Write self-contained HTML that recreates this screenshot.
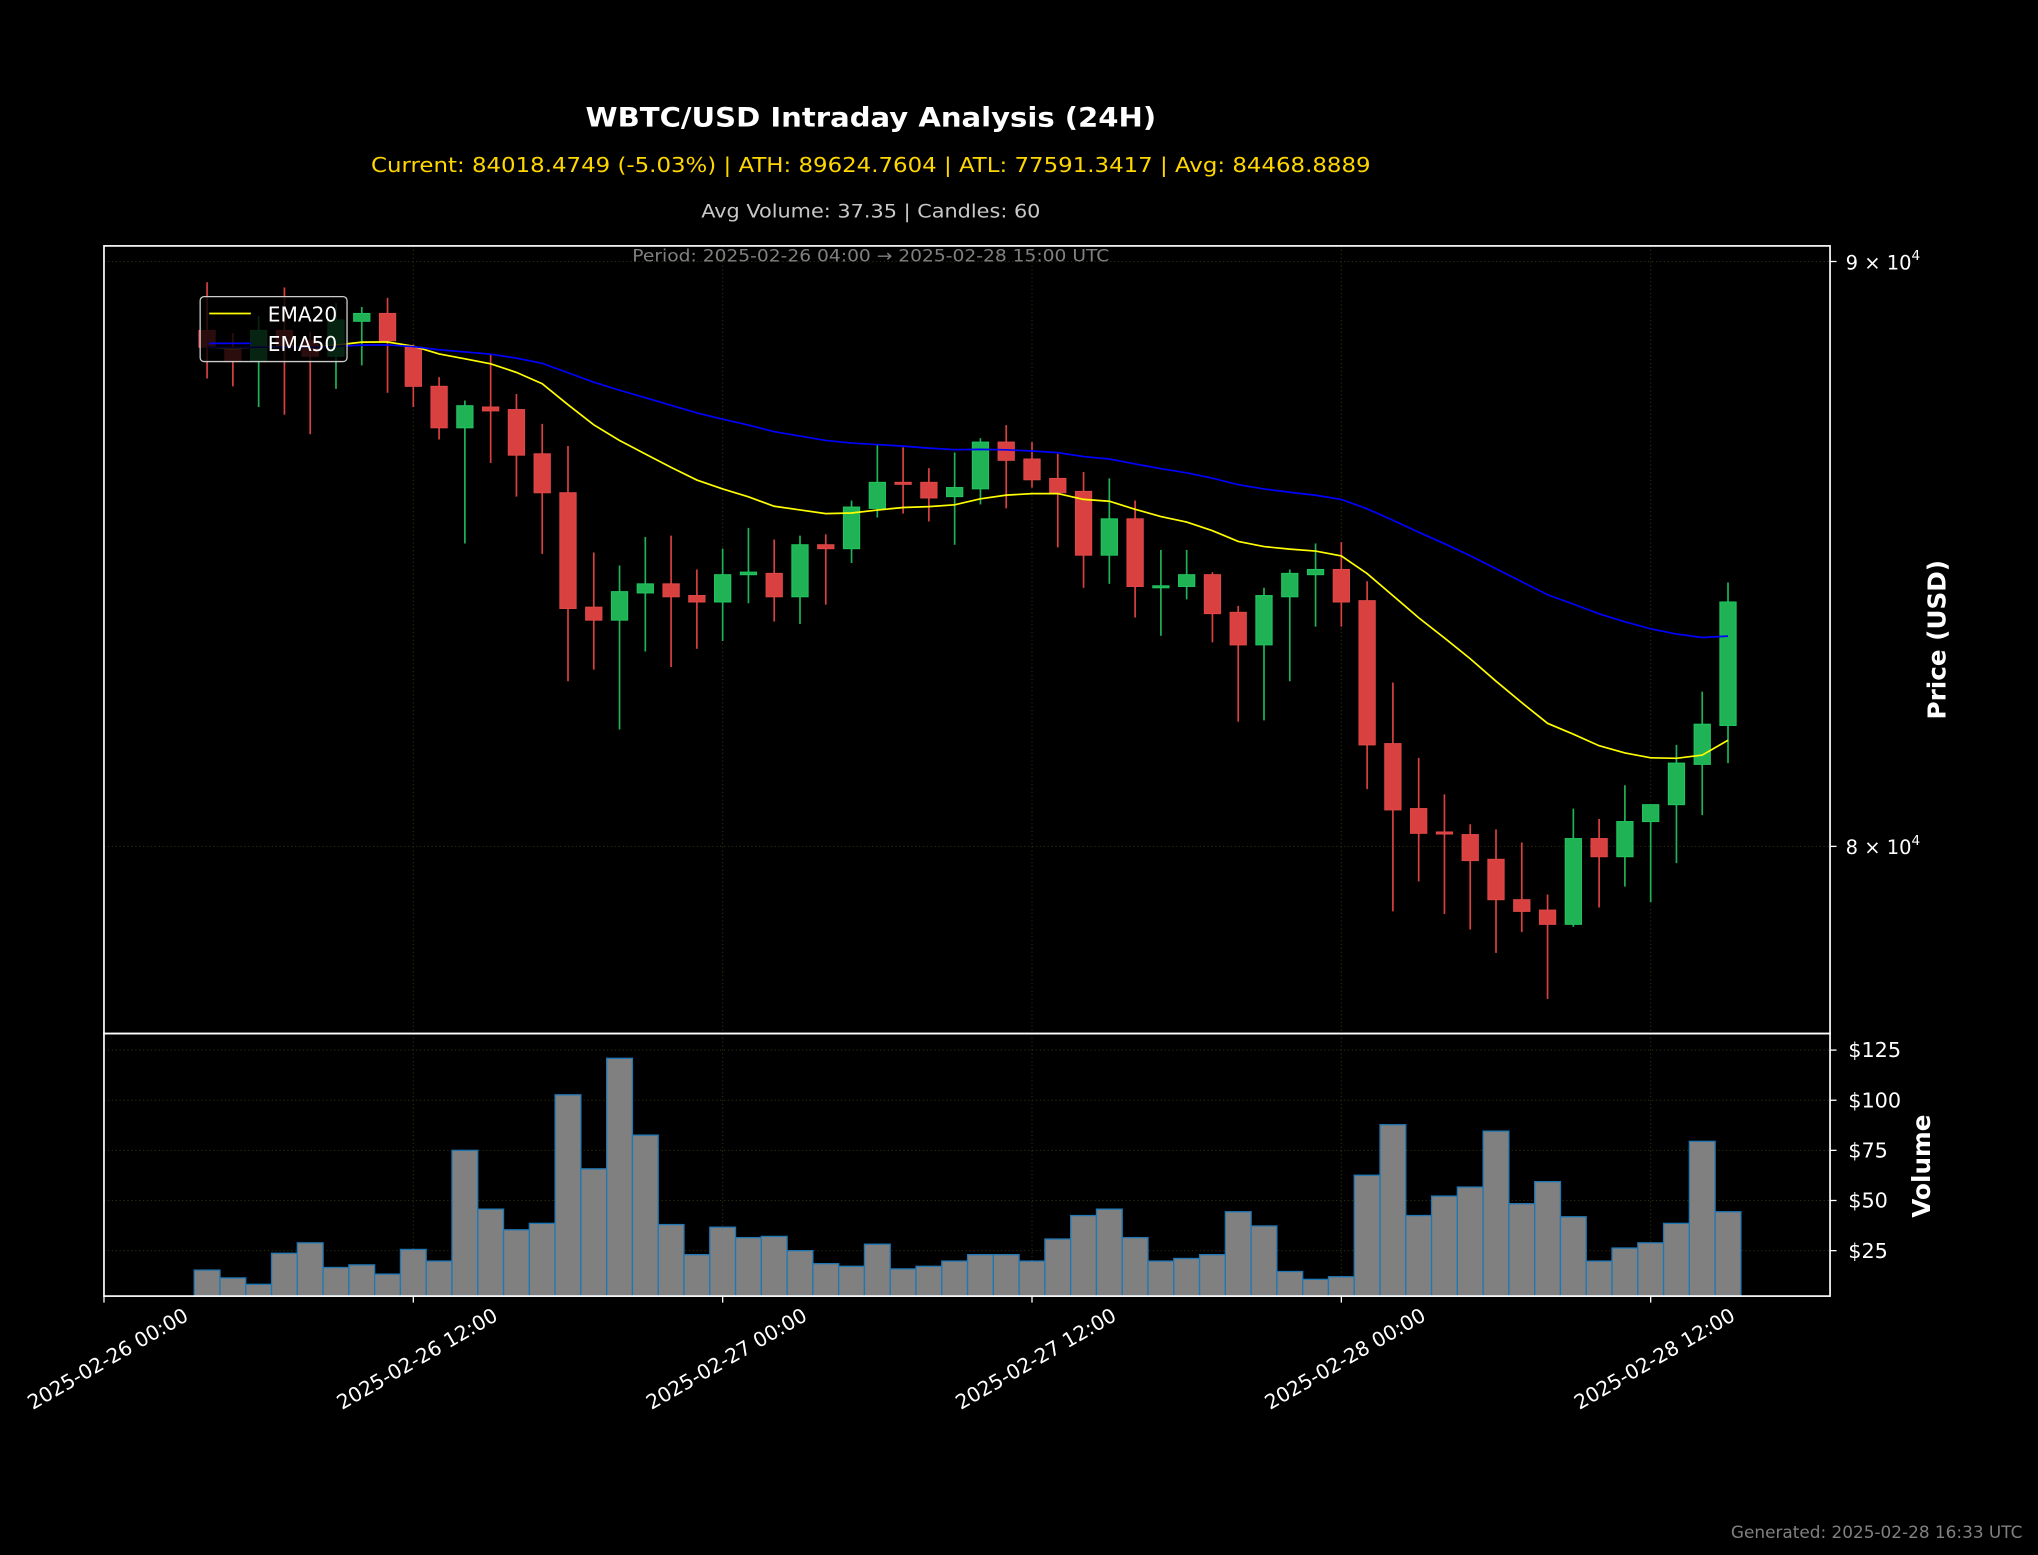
<!DOCTYPE html>
<html><head><meta charset="utf-8"><style>
html,body{margin:0;padding:0;background:#000;}
svg{display:block;font-family:"DejaVu Sans","Liberation Sans",sans-serif;}
</style></head><body>
<svg id="chart" xmlns="http://www.w3.org/2000/svg" width="2038" height="1555" viewBox="0 0 1568 1196">
<rect x="0" y="0" width="1568" height="1196" fill="#000"/>
<text x="670" y="97" text-anchor="middle" fill="#fff" font-weight="bold" font-size="20.5" textLength="439" lengthAdjust="spacingAndGlyphs">WBTC/USD Intraday Analysis (24H)</text>
<text x="670" y="132" text-anchor="middle" fill="#ffd700" font-size="16" textLength="769" lengthAdjust="spacingAndGlyphs">Current: 84018.4749 (-5.03%) | ATH: 89624.7604 | ATL: 77591.3417 | Avg: 84468.8889</text>
<text x="670" y="167" text-anchor="middle" fill="#c8c8c8" font-size="14" textLength="261" lengthAdjust="spacingAndGlyphs">Avg Volume: 37.35 | Candles: 60</text>
<g id="grid"></g>
<g id="vol"></g>
<g id="candles"></g>
<g id="ema"></g>
<text x="670" y="201" text-anchor="middle" fill="#808080" font-size="13" textLength="367" lengthAdjust="spacingAndGlyphs">Period: 2025-02-26 04:00 → 2025-02-28 15:00 UTC</text>
<rect x="80" y="189" width="1328" height="606" fill="none" stroke="#fff" stroke-width="1.3"/>
<rect x="80" y="795" width="1328" height="202" fill="none" stroke="#fff" stroke-width="1.3"/>
<g id="axes"></g>
<g>
<rect x="154" y="228" width="113" height="50" rx="3" fill="#000" fill-opacity="0.8" stroke="#ccc" stroke-width="1"/>
<line x1="161" y1="241" x2="193" y2="241" stroke="#ffff00" stroke-width="1.3"/>
<text x="206" y="247" fill="#fff" font-size="15.5">EMA20</text>
<line x1="161" y1="264" x2="193" y2="264" stroke="#0000ff" stroke-width="1.3"/>
<text x="206" y="270" fill="#fff" font-size="15.5">EMA50</text>
</g>
<text transform="translate(1497,492) rotate(-90)" text-anchor="middle" fill="#fff" font-weight="bold" font-size="19">Price (USD)</text>
<text transform="translate(1485,897) rotate(-90)" text-anchor="middle" fill="#fff" font-weight="bold" font-size="19">Volume</text>
<text x="1556" y="1183" text-anchor="end" fill="#808080" font-size="13">Generated: 2025-02-28 16:33 UTC</text>
</svg>
<script>
const opens=[88760,88459,88205,88760,88575,88298,88923,89063,88459,87766,87036,87401,87356,86581,85905,83948,83729,84189,84343,84145,84036,84499,84521,84124,85010,84943,85635,86085,86085,85838,85973,86786,86490,86153,85928,84832,85455,84288,84299,84499,83861,83313,84124,84499,84588,84058,81673,80611,80232,80190,79792,79146,78980,78754,80126,79834,80401,80675,81332,81972];
const highs=[89625,88714,89016,89531,88737,89250,89180,89344,88506,87928,87515,88321,87629,87105,86717,84877,84655,85143,85166,84588,84943,85299,85099,85166,85188,85770,86740,86695,86332,86603,86854,87082,86786,86581,86265,86153,85770,84921,84921,84543,83970,84277,84588,85032,85054,84388,82684,81438,80843,80358,80274,80063,79228,80611,80443,80991,80675,81652,82532,84366];
const lows=[87905,87766,87401,87265,86923,87720,88136,87652,87401,86831,85032,86422,85838,84855,82705,82900,81905,83203,82943,83247,83378,84014,83707,83663,83992,84699,85478,85545,85410,85010,85703,85635,85995,84965,84277,84343,83773,83466,84080,83356,82036,82057,82705,83619,83619,80928,78960,79438,78919,78672,78302,78631,77580,78713,79022,79355,79106,79731,80506,81353];
const closes=[88459,88205,88760,88459,88298,88946,89063,88575,87766,87036,87424,87333,86558,85905,83926,83729,84211,84343,84124,84036,84499,84543,84124,85010,84943,85658,86085,86063,85815,85995,86786,86468,86130,85905,84832,85455,84299,84310,84499,83839,83313,84145,84521,84588,84036,81652,80590,80211,80200,79772,79146,78960,78754,80126,79834,80401,80675,81353,81993,84036];
const volumes=[15.3,11.4,8.2,23.7,28.9,16.6,17.9,13.3,25.6,19.8,75,45.7,35.4,38.6,102.7,65.8,120.9,82.6,38,23,36.7,31.5,32.1,25,18.5,17.2,28.2,15.9,17.2,19.8,23,23,19.8,30.8,42.5,45.7,31.5,19.8,21.1,23,44.4,37.3,14.6,10.7,12,62.6,87.8,42.5,52.2,56.7,84.6,48.4,59.4,41.9,19.8,26.3,28.9,38.6,79.5,44.4];
const priceTicks=[80000,90000];
const priceTickLabels=["8","9"];
const volTicks=[25,50,75,100,125];
const volTickLabels=["$25","$50","$75","$100","$125"];
const xTickHours=[0,12,24,36,48,60];
const xTickLabels=["2025-02-26 00:00","2025-02-26 12:00","2025-02-27 00:00","2025-02-27 12:00","2025-02-28 00:00","2025-02-28 12:00"];
const firstHour=4;

const NS="http://www.w3.org/2000/svg";
const pxPerHour=(318-80)/12;
function xHour(h){return 80+h*pxPerHour;}
function xIdx(i){return xHour(firstHour+i);}
const pxPerDecade=450/Math.log10(90000/80000);
function yPrice(p){return 651-(Math.log10(p)-Math.log10(80000))*pxPerDecade;}
const volPx=(962-807.7)/100;
function yVol(v){return 1000.6-v*volPx;}
function mk(tag,attrs,parent){const e=document.createElementNS(NS,tag);for(const k in attrs)e.setAttribute(k,attrs[k]);parent.appendChild(e);return e;}

const grid=document.getElementById('grid');
const gridStyle={stroke:"#2e2c0c","stroke-width":"0.8","stroke-dasharray":"1,2"};
xTickHours.forEach((h)=>{
  const x=xHour(h);
  const a=mk('line',Object.assign({x1:x,y1:189,x2:x,y2:795},gridStyle),grid);
  
  
  const b=mk('line',Object.assign({x1:x,y1:795,x2:x,y2:997},gridStyle),grid);
  
  
});
priceTicks.forEach((p)=>{
  const y=yPrice(p);
  const g=mk('line',Object.assign({x1:80,y1:y,x2:1408,y2:y},gridStyle),grid);
  
  
});
volTicks.forEach((v)=>{
  const y=yVol(v);
  const g=mk('line',Object.assign({x1:80,y1:y,x2:1408,y2:y},gridStyle),grid);
  
  
});

const vol=document.getElementById('vol');
volumes.forEach((v,i)=>{
  const x=xIdx(i)-pxPerHour/2;
  const r=mk('rect',{x:x,y:yVol(v),width:pxPerHour,height:997-yVol(v),fill:"#808080",stroke:"#1f77b4","stroke-width":"1"},vol);
  
  
});

const cg=document.getElementById('candles');
const bw=12.5;
opens.forEach((o,i)=>{
  const c=closes[i];
  const up=c>=o;
  const col=up?"#1fb356":"#d94040";
  const x=xIdx(i);
  const w=mk('line',{x1:x,y1:yPrice(highs[i]),x2:x,y2:yPrice(lows[i]),stroke:col,"stroke-width":"1.3"},cg);
  
  
  const top=yPrice(Math.max(o,c)),bot=yPrice(Math.min(o,c));
  const b=mk('rect',{x:x-bw/2,y:top,width:bw,height:Math.max(bot-top,1.5),fill:col,stroke:up?"#22c45e":"#e04848","stroke-width":"0.8"},cg);
  
  
});

function ema(arr,span){const a=2/(span+1);const out=[];let prev=arr[0];arr.forEach((v,i)=>{prev=i===0?v:a*v+(1-a)*prev;out.push(prev);});return out;}
const eg=document.getElementById('ema');
[[20,"#ffff00","ema20-line"],[50,"#0000ff","ema50-line"]].forEach(([span,col,name])=>{
  const e=ema(closes,span);
  const d=e.map((v,i)=>(i?"L":"M")+xIdx(i).toFixed(2)+","+yPrice(v).toFixed(2)).join(" ");
  const p=mk('path',{d:d,fill:"none",stroke:col,"stroke-width":"1.3"},eg);
  
  
});

const ax=document.getElementById('axes');
priceTicks.forEach((p,i)=>{
  const y=yPrice(p);
  const t=mk('line',{x1:1408,y1:y,x2:1413,y2:y,stroke:"#fff","stroke-width":"1"},ax);
  
  
  const tx=mk('text',{x:1420,y:y+6,fill:"#fff","font-size":"15"},ax);
  
  
  tx.textContent=priceTickLabels[i]+" × 10";
  const sup=mk('tspan',{dy:"-7","font-size":"10.5"},tx);
  sup.textContent="4";
});
volTicks.forEach((v,i)=>{
  const y=yVol(v);
  const t=mk('line',{x1:1408,y1:y,x2:1413,y2:y,stroke:"#fff","stroke-width":"1"},ax);
  
  
  const tx=mk('text',{x:1422,y:y+5.5,fill:"#fff","font-size":"16"},ax);
  
  
  tx.textContent=volTickLabels[i];
});
xTickHours.forEach((h,i)=>{
  const x=xHour(h);
  const t=mk('line',{x1:x,y1:997,x2:x,y2:1002,stroke:"#fff","stroke-width":"1"},ax);
  
  
  const tx=mk('text',{x:0,y:0,fill:"#fff","font-size":"15.5","text-anchor":"end",transform:"translate("+(x+66)+",1015) rotate(-30)"},ax);
  
  
  tx.textContent=xTickLabels[i];
});
</script>
</body></html>
